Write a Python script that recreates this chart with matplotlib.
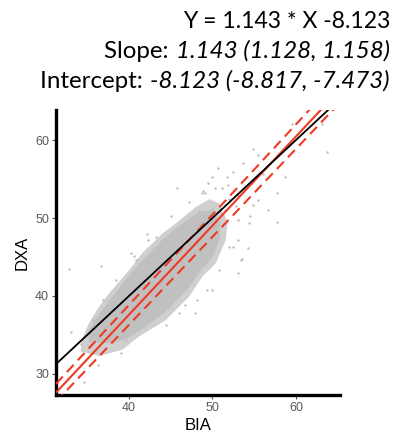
import matplotlib
matplotlib.use("Agg")
import matplotlib.pyplot as plt
from matplotlib.patches import Polygon

# ---- data ----
slope, intercept = 1.143, -8.123
slope_lo, slope_hi = 1.128, 1.158
int_lo, int_hi = -8.817, -7.473

# outer outline of the point cloud (BIA, DXA)
fringe_x = [34.2, 36.4, 39.2, 41.2, 44.4, 47.2, 48.8, 50.4, 51.6, 51.8, 50.8, 49.6,
            48.0, 45.6, 44.0, 41.6, 40.0, 37.6, 36.4, 35.2, 34.4]
fringe_y = [32.9, 32.3, 33.1, 34.8, 36.9, 39.9, 42.5, 44.2, 47.2, 49.5, 51.9, 52.4,
            51.4, 49.3, 48.0, 45.5, 43.3, 40.3, 38.6, 36.5, 34.5]
# dense core of the cloud
core_x = [35.2, 37.5, 39.5, 41.5, 44.2, 46.8, 48.4, 50.0, 50.9, 50.9, 50.0, 48.5,
          46.0, 44.0, 41.8, 40.0, 37.8, 36.3, 35.2]
core_y = [34.0, 34.0, 34.4, 35.7, 37.8, 40.6, 43.0, 45.0, 47.4, 49.4, 51.0, 50.9,
          49.0, 47.2, 44.8, 42.6, 39.6, 37.5, 35.6]

# scattered individual points (BIA, DXA)
pts_x = [32.85, 36.6, 40.6, 42.2, 48.8, 51.2, 53.0, 53.4, 54.4, 54.5, 53.0, 47.6,
         44.4, 39.0, 34.6, 33.05, 34.2, 36.25, 39.6, 46.0, 49.4, 50.8, 52.0, 50.0,
         47.2, 45.0, 43.2, 40.8, 38.4, 36.85, 35.65,
         54.9, 55.5, 56.1, 53.7, 50.7, 48.9, 50.3, 51.7, 52.5, 58.7, 57.7, 57.7,
         59.5, 63.1, 63.7, 54.9, 55.5, 56.7, 53.5, 52.5,
         45.7, 42.3, 40.3, 49.1, 51.9, 54.3, 53.1, 49.9, 47.9, 48.1, 46.7, 47.5,
         52.0, 53.0, 51.5, 52.8, 53.8, 49.5, 50.0]
pts_y = [43.5, 43.8, 45.1, 48.0, 53.2, 53.8, 49.7, 44.6, 49.3, 50.2, 47.2, 42.1,
         36.3, 32.7, 29.0, 35.4, 33.8, 31.2, 34.4, 37.8, 40.8, 43.3, 46.3, 51.2,
         52.1, 50.2, 47.6, 44.6, 42.1, 39.5, 36.9,
         58.9, 58.1, 55.7, 57.0, 56.4, 53.4, 53.8, 55.3, 55.9, 55.3, 53.2, 49.5,
         62.1, 62.1, 58.5, 51.7, 52.3, 51.0, 44.8, 46.3,
         53.8, 47.2, 45.5, 53.2, 54.2, 46.1, 42.9, 40.8, 37.8, 39.5, 38.8, 42.9,
         52.5, 53.0, 51.0, 51.5, 53.8, 54.5, 55.2]

x_ticks = [40, 50, 60]
y_ticks = [30, 40, 50, 60]
x_lim = (31.26, 65.27)
y_lim = (27.3, 63.85)

# ---- figure ----
fig = plt.figure(figsize=(3.93, 4.34), dpi=100)
ax = fig.add_axes([0.1425, 0.0899, 0.7225, 0.6566])

ax.add_patch(Polygon(list(zip(fringe_x, fringe_y)), closed=True, facecolor="#cfcfcf",
                     edgecolor="none", zorder=1))
ax.add_patch(Polygon(list(zip(core_x, core_y)), closed=True, facecolor="#c0c0c0",
                     edgecolor="none", zorder=1.5))
ax.scatter(pts_x, pts_y, s=3, color="#bdbdbd", linewidths=0, zorder=2)

xs = [x_lim[0], x_lim[1]]
red = "#ee3a24"
ax.plot(xs, [slope * x + intercept for x in xs], color=red, lw=1.5, zorder=3,
        solid_capstyle="butt")
ax.plot(xs, [slope_hi * x + int_hi for x in xs], color=red, lw=1.5, zorder=3,
        dashes=(4.8, 2.9))
ax.plot(xs, [slope_lo * x + int_lo for x in xs], color=red, lw=1.5, zorder=3,
        dashes=(4.8, 2.9))
ax.plot(xs, xs, color="black", lw=1.3, zorder=4)

ax.set_xlim(*x_lim)
ax.set_ylim(*y_lim)
ax.set_xticks(x_ticks)
ax.set_yticks(y_ticks)
for s in ("top", "right"):
    ax.spines[s].set_visible(False)
for s in ("left", "bottom"):
    ax.spines[s].set_linewidth(2.4)
    ax.spines[s].set_color("black")
ax.tick_params(axis="both", length=3, width=0.8, color="#555555", labelcolor="#5a5a5a",
               labelsize=9, pad=2)
for lab in ax.get_xticklabels() + ax.get_yticklabels():
    lab.set_fontfamily("Liberation Sans")
ax.set_xlabel("BIA", fontsize=12, family="Liberation Sans", labelpad=3)
ax.set_ylabel("DXA", fontsize=12, family="Liberation Sans", labelpad=4)

# ---- title text (right aligned, mixed regular / italic) ----
renderer = fig.canvas.get_renderer()
right = 390 / 393
lines = [("Y = 1.143 * X -8.123", "", 16.6),
         ("Slope: ", "1.143 (1.128, 1.158)", 17.4),
         ("Intercept: ", "-8.123 (-8.817, -7.473)", 17.4)]
baselines = [28, 58, 88]
for (reg, ita, fs), by in zip(lines, baselines):
    yfig = 1 - by / 434
    xr = right
    if ita:
        t = fig.text(xr, yfig, ita, ha="right", va="baseline", fontsize=fs,
                     family="Lato", style="italic")
        bb = t.get_window_extent(renderer)
        xr = bb.x0 / fig.bbox.width - 0.004
    fig.text(xr, yfig, reg, ha="right", va="baseline", fontsize=fs, family="Lato")

fig.savefig("out.png", dpi=100)
